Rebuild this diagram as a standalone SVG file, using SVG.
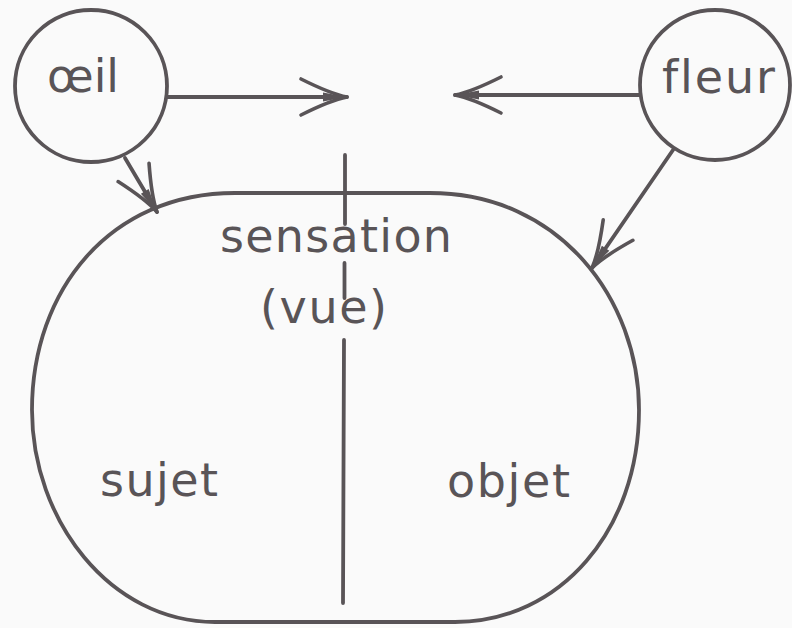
<svg xmlns="http://www.w3.org/2000/svg" width="792" height="628" viewBox="0 0 792 628">
<defs>
<style>
.ln{fill:none;stroke:#595457;stroke-width:3.8;stroke-linecap:round}
.tx{font-family:"DejaVu Sans","Open Sans",sans-serif;font-size:46px;fill:#595457;font-variant-ligatures:none;font-feature-settings:"liga" 0}
</style>
<marker id="ah" markerUnits="userSpaceOnUse" markerWidth="60" markerHeight="60" refX="0" refY="0" orient="auto" overflow="visible">
<path d="M -46 -18 Q -16 -3 0 0 Q -16 3 -46 18" fill="none" stroke="#595457" stroke-width="3.6" stroke-linecap="round" stroke-linejoin="round"/>
<path d="M -24 -4.5 L 0 0 L -24 4.5 Z" fill="#595457"/>
</marker>
</defs>
<rect width="792" height="628" fill="#fafafa"/>
<g id="sensation-node">
<path class="ln" d="M 235 193 L 430 193 C 560 193 639 300 639 410 C 639 530 560 622 455 622 L 215 622 C 110 622 32 520 32 410 C 32 290 110 193 235 193 Z"/>
<path class="ln" d="M 345 155 L 345 224 M 344.5 263 L 344.5 298 M 344 340 L 343 603"/>
<text class="tx" x="220" y="252" textLength="232" lengthAdjust="spacing">sensation</text>
<text class="tx" x="260" y="323" textLength="127" lengthAdjust="spacing">(vue)</text>
<text class="tx" x="100" y="496" textLength="118" lengthAdjust="spacing">sujet</text>
<text class="tx" x="447" y="497" textLength="123" lengthAdjust="spacing">objet</text>
</g>
<g id="oeil">
<circle class="ln" cx="91" cy="86" r="76"/>
<text class="tx" x="47" y="92" textLength="72" lengthAdjust="spacingAndGlyphs">œil</text>
</g>
<g id="fleur">
<circle class="ln" cx="715" cy="85" r="75"/>
<text class="tx" x="662" y="93" textLength="113" lengthAdjust="spacing">fleur</text>
</g>
<g id="connectors">
<line class="ln" x1="167" y1="97" x2="347" y2="97" marker-end="url(#ah)"/>
<line class="ln" x1="640" y1="95" x2="455" y2="95" marker-end="url(#ah)"/>
<line class="ln" x1="125" y1="158" x2="157" y2="212" marker-end="url(#ah)"/>
<line class="ln" x1="673" y1="150" x2="592" y2="268" marker-end="url(#ah)"/>
</g>
</svg>
